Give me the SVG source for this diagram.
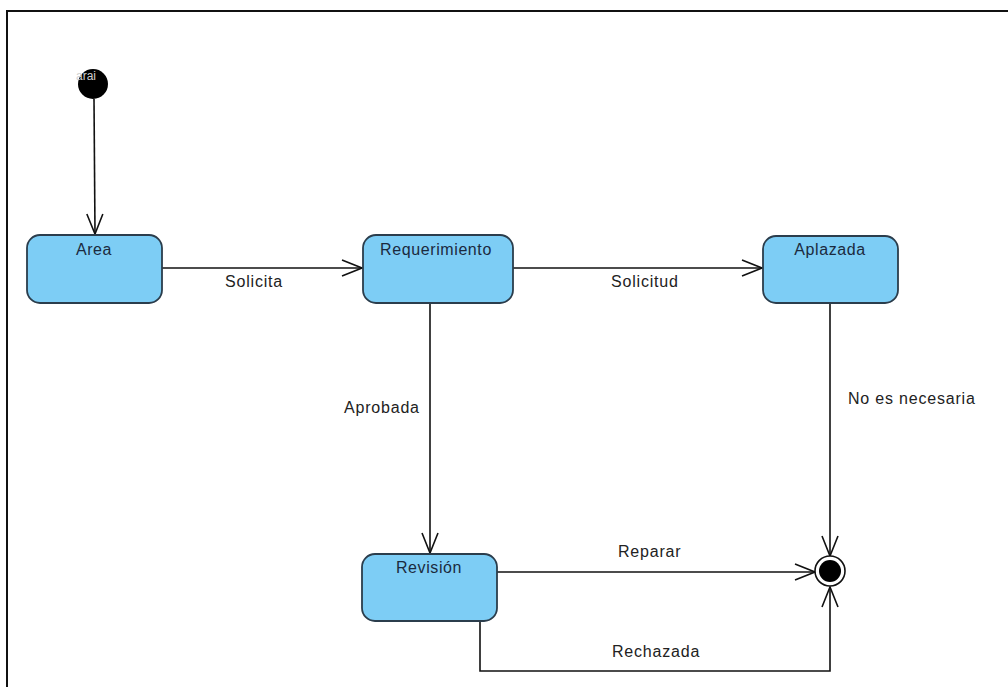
<svg xmlns="http://www.w3.org/2000/svg" width="1008" height="687" viewBox="0 0 1008 687">
  <defs>
    <marker id="open" viewBox="0 0 22 18" refX="21" refY="9" markerWidth="22" markerHeight="18" markerUnits="userSpaceOnUse" orient="auto">
      <path d="M1,1 L21,9 L1,17" fill="none" stroke="#111" stroke-width="1.6"/>
    </marker>
  </defs>
  <style>
    .node rect { fill: #7dcdf5; stroke: #2b3d4c; stroke-width: 1.8; }
    .node text { font-family: "Liberation Sans", Arial, sans-serif; font-size: 16px; fill: #1b2a3e; text-anchor: middle; letter-spacing: 0.6px; }
    .edge { fill: none; stroke: #111; stroke-width: 1.6; }
    .lbl { font-family: "Liberation Sans", Arial, sans-serif; font-size: 16px; fill: #222; letter-spacing: 0.8px; }
    .frame { stroke: #111; stroke-width: 2; fill: none; }
  </style>
  <rect x="0" y="0" width="1008" height="687" fill="#ffffff"/>
  <path class="frame" d="M7,687 L7,11 L1008,11"/>

  <g id="connectors">
    <path class="edge" d="M94,99 L95,234" marker-end="url(#open)"/>
    <path class="edge" d="M162,268 L362,268" marker-end="url(#open)"/>
    <path class="edge" d="M513,268 L762,268" marker-end="url(#open)"/>
    <path class="edge" d="M430,303 L430,553" marker-end="url(#open)"/>
    <path class="edge" d="M830,303 L830,556" marker-end="url(#open)"/>
    <path class="edge" d="M497,572 L815,572" marker-end="url(#open)"/>
    <path class="edge" d="M480,621 L480,671 L830,671 L830,587" marker-end="url(#open)"/>
    <text class="lbl" x="225" y="287">Solicita</text>
    <text class="lbl" x="611" y="287">Solicitud</text>
    <text class="lbl" x="344" y="413">Aprobada</text>
    <text class="lbl" x="848" y="404">No es necesaria</text>
    <text class="lbl" x="618" y="557">Reparar</text>
    <text class="lbl" x="612" y="657">Rechazada</text>
  </g>

  <g id="initial">
    <circle cx="93" cy="84" r="15" fill="#000"/>
    <text x="76" y="80" font-family="Liberation Sans, Arial, sans-serif" font-size="12" fill="#cfcfcf">arai</text>
  </g>

  <g id="final">
    <circle cx="830" cy="571" r="15" fill="#fff" stroke="#111" stroke-width="1.6"/>
    <circle cx="830" cy="571" r="11" fill="#000"/>
  </g>

  <g id="area" class="node">
    <rect x="27" y="235" width="135" height="68" rx="13"/>
    <text x="94" y="255">Area</text>
  </g>
  <g id="requerimiento" class="node">
    <rect x="363" y="235" width="150" height="68" rx="13"/>
    <text x="436" y="255">Requerimiento</text>
  </g>
  <g id="aplazada" class="node">
    <rect x="763" y="236" width="135" height="67" rx="13"/>
    <text x="830" y="255">Aplazada</text>
  </g>
  <g id="revision" class="node">
    <rect x="362" y="554" width="135" height="67" rx="13"/>
    <text x="429" y="573">Revisión</text>
  </g>
</svg>
